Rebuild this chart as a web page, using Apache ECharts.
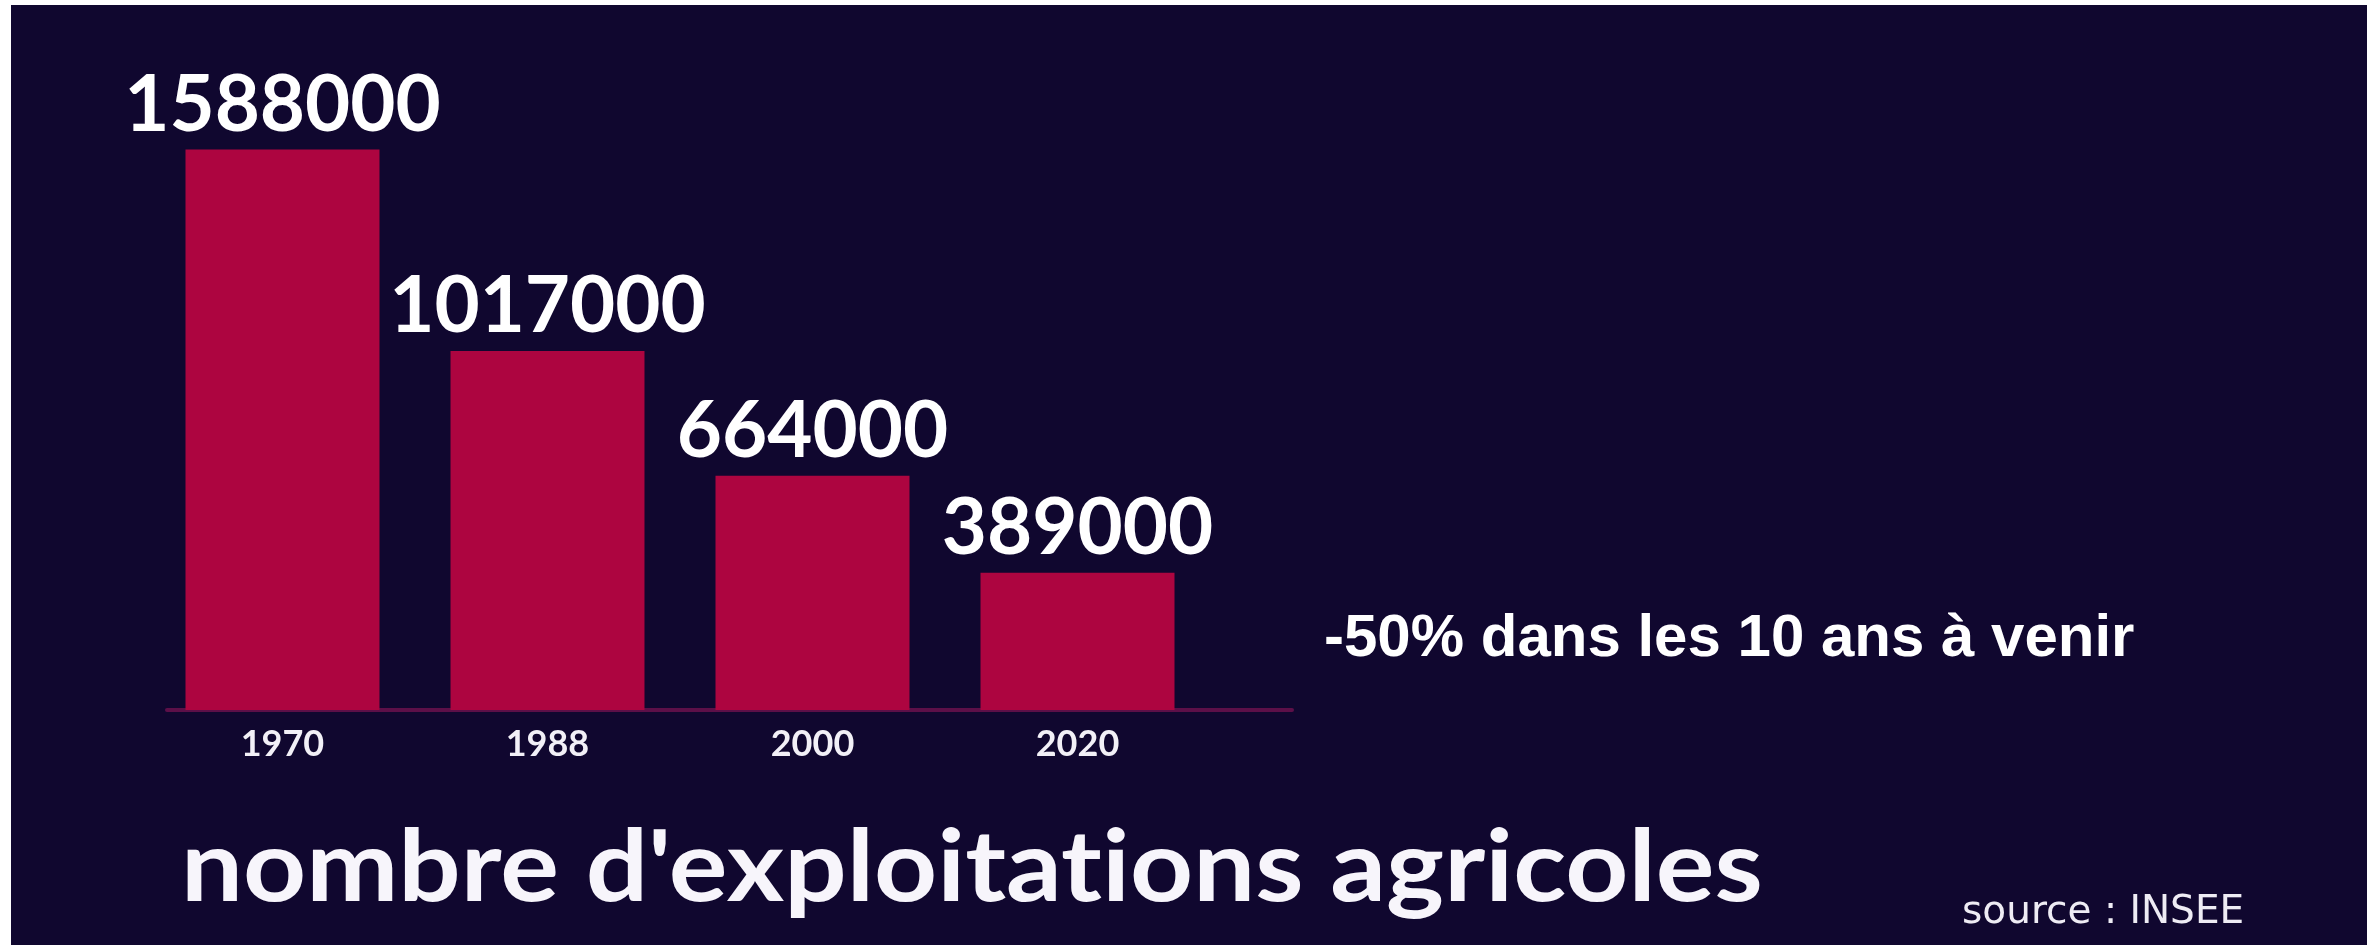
<!DOCTYPE html>
<html>
<head>
<meta charset="utf-8">
<script src="https://cdn.jsdelivr.net/npm/echarts@6/dist/echarts.min.js"></script>
<style>
html,body{margin:0;padding:0;background:#ffffff;}
#chart{width:2379px;height:945px;}
</style>
</head>
<body>
<div id="chart"></div>
<script>
const categories = ['1970', '1988', '2000', '2020'];
const values = [1588000, 1017000, 664000, 389000];
const positions = [0, 1, 2, 3];
const titleText = "nombre d'exploitat\u200Cions agricoles";
const noteText = "-50% dans les 10 ans à venir";
const sourceText = "source : INSEE";

const chart = echarts.init(document.getElementById('chart'), null, {renderer: 'canvas'});
const option = {
  backgroundColor: '#ffffff',
  animation: false,
  graphic: [
    {
      type: 'rect', z: -10, silent: true,
      shape: {x: 11, y: 5, width: 2356, height: 940},
      style: {fill: '#10072f'}
    },
    {
      type: 'text', z: 10, silent: true,
      x: 181, y: 869, scaleX: 1.10, scaleY: 1,
      style: {
        text: titleText, x: 0, y: 0,
        fontFamily: 'Lato', fontWeight: 'bold', fontSize: 100,
        fill: '#f7f5fb', textAlign: 'left', textVerticalAlign: 'middle'
      }
    }
  ],
  title: [
    {text: noteText, left: 1319, top: 604,
     textStyle: {fontFamily: 'Liberation Sans', fontWeight: 'bold', fontSize: 60, color: '#ffffff'}},
    {text: sourceText, left: 1957, top: 888,
     textStyle: {fontFamily: 'DejaVu Sans', fontWeight: 'normal', fontSize: 39, color: '#eeecf4'}}
  ],
  grid: {left: 167, right: 1087, top: 110, bottom: 235, containLabel: false},
  xAxis: {
    type: 'value', min: -0.4358, max: 3.8094,
    axisLine: {show: true, lineStyle: {color: '#5c0f48', width: 4}},
    axisTick: {show: false},
    splitLine: {show: false},
    axisLabel: {
      customValues: positions,
      margin: 16,
      formatter: v => categories[Math.round(v)],
      fontFamily: 'Lato', fontWeight: 'bold', fontSize: 36, color: '#f2f0f7'
    }
  },
  yAxis: {type: 'value', min: 0, max: 1700000, show: false, splitLine: {show: false}},
  series: [{
    type: 'bar',
    barWidth: 194,
    data: positions.map((p, i) => [p, values[i]]),
    itemStyle: {color: '#ad0540'},
    label: {
      show: true, position: 'top', distance: 5,
      formatter: p => String(p.value[1]),
      fontFamily: 'Lato', fontWeight: 'bold', fontSize: 78, color: '#ffffff'
    }
  }]
};
chart.setOption(option);
</script>
</body>
</html>
